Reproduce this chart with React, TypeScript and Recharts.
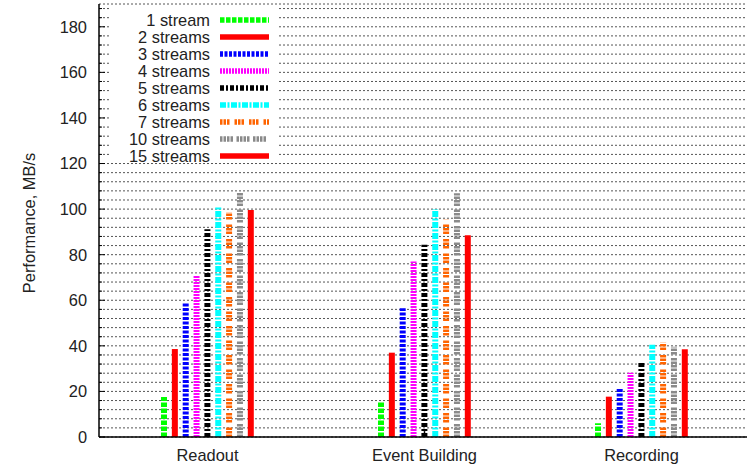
import React from 'react';
import { BarChart, Bar, XAxis, YAxis, CartesianGrid, ReferenceLine } from 'recharts';

const categories = ['Readout', 'Event Building', 'Recording'];

const seriesNames = [
  '1 stream',
  '2 streams',
  '3 streams',
  '4 streams',
  '5 streams',
  '6 streams',
  '7 streams',
  '10 streams',
  '15 streams',
];

const streams1 = [17.5, 15.5, 6];
const streams2 = [38.6, 37, 17.7];
const streams3 = [59, 56.5, 21.5];
const streams4 = [71, 77, 28.2];
const streams5 = [91.2, 84.4, 32.6];
const streams6 = [101, 100, 40.5];
const streams7 = [98.6, 95.6, 41.4];
const streams10 = [107.2, 107, 39.6];
const streams15 = [99.6, 88.5, 38.5];

const seriesValues = [streams1, streams2, streams3, streams4, streams5, streams6, streams7, streams10, streams15];

const colors = ['#00ff00', '#ff0000', '#0000ff', '#ff00ff', '#000000', '#00ffff', '#ff6400', '#8a8a8a', '#ff0000'];
// gnuplot-like line types used as bar fills
const dashes = [
  '4.5 1.5',
  undefined,
  '3 1.5',
  '2 1',
  '4 2 2 2',
  '6 1.5 2 1.5',
  '2.5 1 2.5 1 2.5 5',
  '2.5 1 2.5 1 2.5 1 2.5 3.5',
  undefined,
];

const majorTicks = [0, 20, 40, 60, 80, 100, 120, 140, 160, 180];
const gridTicks: number[] = [];
for (let v = 0; v <= 188; v += 4) gridTicks.push(v);

const data = categories.map((name, i) => {
  const row: Record<string, string | number> = { name };
  seriesNames.forEach((s, j) => {
    row['s' + j] = seriesValues[j][i];
  });
  return row;
});

const FONT = '"Liberation Sans", Arial, sans-serif';

const DashedBar = (props: any) => {
  const { x, y, width, height, color, dash } = props;
  if (!height || height <= 0) return null;
  const cx = x + width / 2;
  return (
    <line
      x1={cx}
      x2={cx}
      y1={y + height}
      y2={y}
      stroke={color}
      strokeWidth={width}
      strokeDasharray={dash}
      strokeLinecap="butt"
    />
  );
};

const LeftTick = (props: any) => {
  const { x, y, payload } = props;
  const major = payload.value % 20 === 0;
  return (
    <g>
      <line x1={x} x2={x + (major ? 6 : 3)} y1={y} y2={y} stroke="#000" strokeWidth={1} />
      {major && (
        <text x={x - 12} y={y} dy="0.36em" textAnchor="end" fontSize={16.4} fontFamily={FONT} fill="#222">
          {payload.value}
        </text>
      )}
    </g>
  );
};

const RightTick = (props: any) => {
  const { x, y } = props;
  return <line x1={x - 6} x2={x} y1={y} y2={y} stroke="#000" strokeWidth={1} />;
};

const BottomTick = (props: any) => {
  const { x, y, payload } = props;
  return (
    <text x={x} y={y + 24} textAnchor="middle" fontSize={16.4} fontFamily={FONT} fill="#222">
      {payload.value}
    </text>
  );
};

const LegendBox = () => (
  <svg width={747} height={464} style={{ position: 'absolute', left: 0, top: 0, pointerEvents: 'none' }}>
    <rect x={110} y={6} width={167} height={156} fill="#fff" />
    {seriesNames.map((s, i) => {
      const cy = 20 + i * 17;
      return (
        <g key={s}>
          <text x={210} y={cy} dy="0.36em" textAnchor="end" fontSize={16.4} fontFamily={FONT} fill="#222">
            {s}
          </text>
          <line x1={220} x2={269} y1={cy} y2={cy} stroke={colors[i]} strokeWidth={5.5} strokeDasharray={dashes[i]} />
        </g>
      );
    })}
  </svg>
);

const App: React.FC = () => {
  return (
    <div
      style={{
        position: 'fixed',
        left: 0,
        top: 0,
        width: 747,
        height: 464,
        overflow: 'hidden',
        background: '#fff',
      }}
    >
      <BarChart
        width={750}
        height={464}
        data={data}
        margin={{ top: 4, right: 0, bottom: 0, left: 0 }}
        barGap={4.85}
      >
        <CartesianGrid vertical={false} stroke="#555" strokeDasharray="2 2" />
        <XAxis
          dataKey="name"
          height={27}
          tickLine={false}
          tickSize={0}
          tickMargin={0}
          axisLine={{ stroke: '#000', strokeWidth: 1.5 }}
          tick={<BottomTick />}
          interval={0}
        />
        <XAxis xAxisId="n" type="number" domain={[0, 3]} hide allowDataOverflow />
        <YAxis
          width={99}
          domain={[0, 190]}
          ticks={gridTicks}
          interval={0}
          tickLine={false}
          tickSize={0}
          tickMargin={0}
          axisLine={{ stroke: '#000', strokeWidth: 1.5 }}
          tick={<LeftTick />}
          allowDataOverflow
          label={{
            content: () => (
              <text
                x={29}
                y={223}
                transform="rotate(-90 29 223)"
                textAnchor="middle"
                dominantBaseline="central"
                fontSize={16.4}
                fontFamily={FONT}
                fill="#222"
              >
                Performance, MB/s
              </text>
            ),
          }}
        />
        <YAxis
          yAxisId="r"
          orientation="right"
          width={0}
          domain={[0, 190]}
          ticks={majorTicks}
          interval={0}
          tickLine={false}
          tickSize={0}
          tickMargin={0}
          axisLine={false}
          tick={<RightTick />}
          allowDataOverflow
        />
        <ReferenceLine xAxisId="n" segment={[{ x: 1, y: 0 }, { x: 1, y: 2.6 }]} stroke="#000" strokeWidth={1.5} />
        <ReferenceLine xAxisId="n" segment={[{ x: 2, y: 0 }, { x: 2, y: 2.6 }]} stroke="#000" strokeWidth={1.5} />
        {seriesNames.map((s, j) => (
          <Bar
            key={s}
            dataKey={'s' + j}
            name={s}
            fill={colors[j]}
            barSize={6}
            isAnimationActive={false}
            shape={(p: any) => <DashedBar {...p} color={colors[j]} dash={dashes[j]} />}
          />
        ))}
      </BarChart>
      <LegendBox />
    </div>
  );
};

export default App;
